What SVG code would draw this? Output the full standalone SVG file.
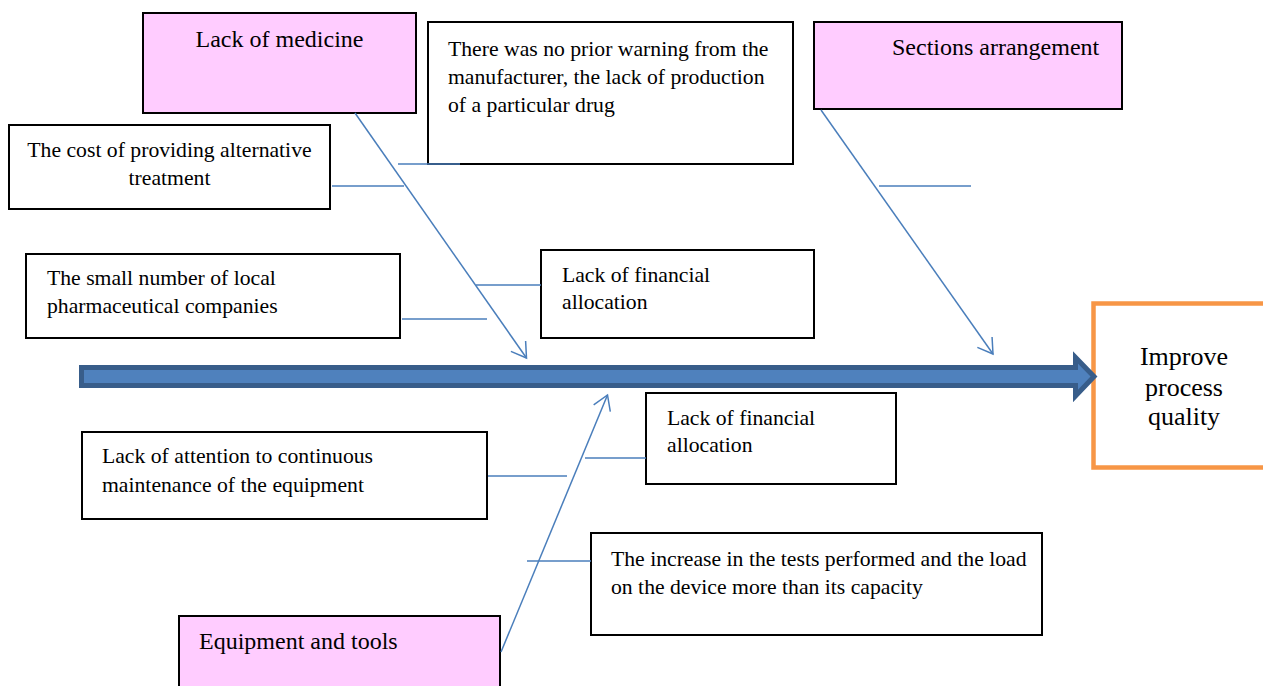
<svg xmlns="http://www.w3.org/2000/svg" width="1263" height="686" viewBox="0 0 1263 686">
  <defs>
    <style>
      .box { fill: #ffffff; stroke: #000000; stroke-width: 2; }
      .cause { fill: #ffccff; stroke: #000000; stroke-width: 2; }
      .t { font-family: "Liberation Serif", "Times New Roman", serif; font-size: 21.7px; fill: #000000; }
      .tt { font-family: "Liberation Serif", "Times New Roman", serif; font-size: 24px; fill: #000000; }
      .goal { font-family: "Liberation Serif", "Times New Roman", serif; font-size: 26px; fill: #000000; text-anchor: middle; }
      .c { stroke: #4a7ebb; stroke-width: 1.5; fill: none; }
    </style>
    <marker id="open" markerUnits="userSpaceOnUse" markerWidth="40" markerHeight="40" refX="0" refY="0" viewBox="-20 -20 40 40" orient="auto" overflow="visible">
      <path d="M-14.4,-9 L0,0 L-14.4,9" fill="none" stroke="#4a7ebb" stroke-width="1.5"/>
    </marker>
  </defs>

  <g id="goal">
    <rect x="1093.5" y="303.5" width="180" height="164" fill="#ffffff" stroke="#f79646" stroke-width="4.5"/>
    <text class="goal" x="1184" y="365">Improve</text>
    <text class="goal" x="1184" y="395.5">process</text>
    <text class="goal" x="1184" y="425">quality</text>
  </g>

  <g id="spine">
    <polygon points="81.5,367.5 1075.5,367.5 1075.5,357.5 1094,376.5 1075.5,396 1075.5,385.5 81.5,385.5" fill="#4f81bd" stroke="#385d8a" stroke-width="5" stroke-linejoin="miter"/>
  </g>

  <g id="lack-of-medicine">
    <rect class="cause" x="143" y="13" width="273" height="100"/>
    <text class="tt" x="279.5" y="47" text-anchor="middle">Lack of medicine</text>
  </g>

  <g id="no-prior-warning">
    <rect class="box" x="428" y="22" width="365" height="142"/>
    <text class="t" x="448" y="56">There was no prior warning from the</text>
    <text class="t" x="448" y="84">manufacturer, the lack of production</text>
    <text class="t" x="448" y="112">of a particular drug</text>
  </g>

  <g id="sections-arrangement">
    <rect class="cause" x="814" y="22" width="308" height="87"/>
    <text class="tt" x="892" y="55">Sections arrangement</text>
  </g>

  <g id="cost-alternative">
    <rect class="box" x="9" y="125" width="321" height="84"/>
    <text class="t" x="169.5" y="157" text-anchor="middle">The cost of providing alternative</text>
    <text class="t" x="169.5" y="185" text-anchor="middle">treatment</text>
  </g>

  <g id="small-number">
    <rect class="box" x="26" y="254" width="374" height="84"/>
    <text class="t" x="47" y="285">The small number of local</text>
    <text class="t" x="47" y="313">pharmaceutical companies</text>
  </g>

  <g id="financial-1">
    <rect class="box" x="541" y="250" width="273" height="88"/>
    <text class="t" x="562" y="282">Lack of financial</text>
    <text class="t" x="562" y="309">allocation</text>
  </g>

  <g id="financial-2">
    <rect class="box" x="646" y="393" width="250" height="91"/>
    <text class="t" x="667" y="425">Lack of financial</text>
    <text class="t" x="667" y="452">allocation</text>
  </g>

  <g id="maintenance">
    <rect class="box" x="82" y="432" width="405" height="87"/>
    <text class="t" x="102" y="463">Lack of attention to continuous</text>
    <text class="t" x="102" y="492">maintenance of the equipment</text>
  </g>

  <g id="tests-load">
    <rect class="box" x="591" y="533" width="451" height="102"/>
    <text class="t" x="611" y="566">The increase in the tests performed and the load</text>
    <text class="t" x="611" y="594">on the device more than its capacity</text>
  </g>

  <g id="equipment-tools">
    <rect class="cause" x="179" y="616" width="321" height="80"/>
    <text class="tt" x="199" y="649">Equipment and tools</text>
  </g>

  <g id="connectors">
    <line class="c" x1="355" y1="113" x2="526.5" y2="358" marker-end="url(#open)"/>
    <line class="c" x1="398" y1="164" x2="460" y2="164"/>
    <line class="c" x1="332" y1="186" x2="404" y2="186"/>
    <line class="c" x1="476" y1="285" x2="541" y2="285"/>
    <line class="c" x1="402" y1="319" x2="487" y2="319"/>

    <line class="c" x1="821" y1="110" x2="993" y2="354" marker-end="url(#open)"/>
    <line class="c" x1="879" y1="186" x2="971" y2="186"/>

    <line class="c" x1="501" y1="652" x2="607.5" y2="395" marker-end="url(#open)"/>
    <line class="c" x1="585" y1="458" x2="646" y2="458"/>
    <line class="c" x1="488" y1="476" x2="567" y2="476"/>
    <line class="c" x1="527" y1="561" x2="591" y2="561"/>
  </g>
</svg>
